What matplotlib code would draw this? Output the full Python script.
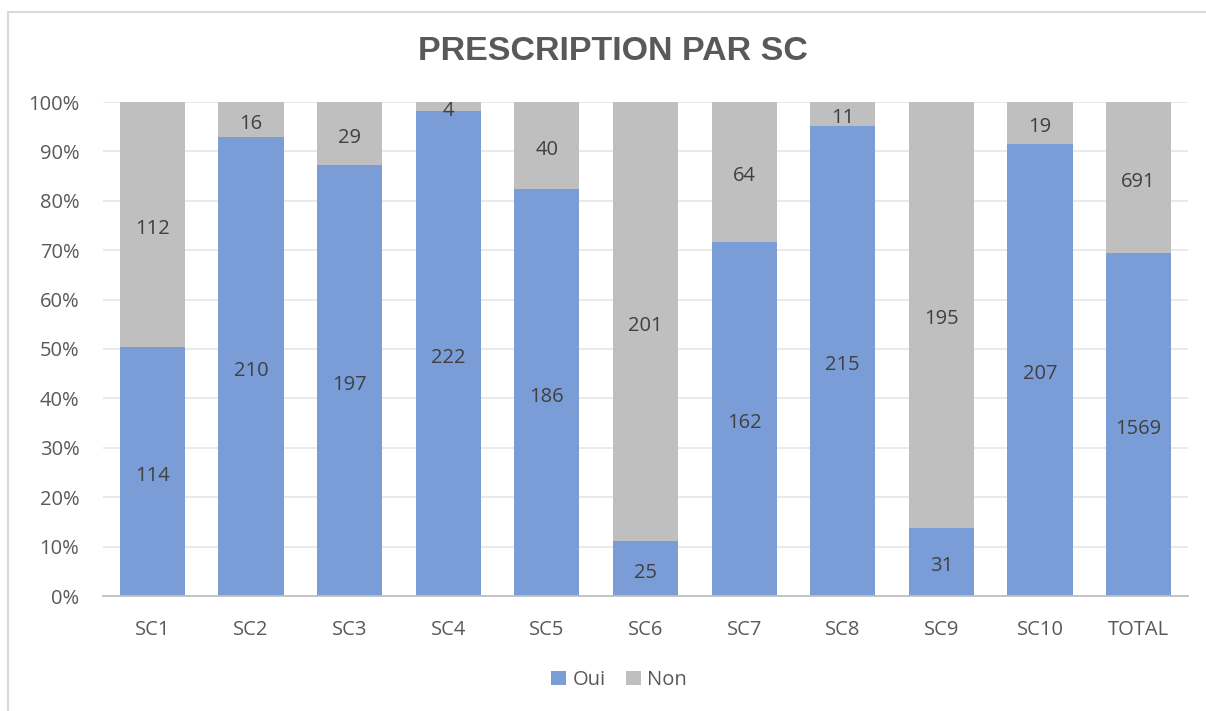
import matplotlib
matplotlib.use("Agg")
import matplotlib.pyplot as plt
from matplotlib.patches import Rectangle
import numpy as np

categories = ["SC1", "SC2", "SC3", "SC4", "SC5", "SC6", "SC7", "SC8", "SC9", "SC10", "TOTAL"]
oui = [114, 210, 197, 222, 186, 25, 162, 215, 31, 207, 1569]
non = [112, 16, 29, 4, 40, 201, 64, 11, 195, 19, 691]

oui_a = np.array(oui, dtype=float)
non_a = np.array(non, dtype=float)
tot = oui_a + non_a
oui_p = oui_a / tot * 100
non_p = non_a / tot * 100

FONT = "Open Sans"
TXT = "#595959"
BLUE = "#7A9DD7"
GREY = "#BFBFBF"
FS = 14.5

fig = plt.figure(figsize=(12.06, 7.11), dpi=100)
fig.patches.append(Rectangle((8/1206, -0.1), 1.2, (711-12)/711 + 0.1, transform=fig.transFigure,
                             fill=False, edgecolor="#D9D9D9", linewidth=1.5))
ax = fig.add_axes([103/1206, 1-596/711, (1188-103)/1206, (596-102)/711])

x = np.arange(len(categories))
w = 0.66
ax.bar(x, oui_p, width=w, color=BLUE, label="Oui", zorder=3)
ax.bar(x, non_p, width=w, bottom=oui_p, color=GREY, label="Non", zorder=3)

for i in range(len(categories)):
    ax.annotate(str(oui[i]), (x[i], oui_p[i] / 2), xytext=(0, -3), textcoords="offset points",
                ha="center", va="center", fontsize=FS, color="#404040", family=FONT, zorder=4)
    ax.annotate(str(non[i]), (x[i], oui_p[i] + non_p[i] / 2), xytext=(0, -3),
                textcoords="offset points", ha="center", va="center",
                fontsize=FS, color="#404040", family=FONT, zorder=4)

ax.set_xlim(-0.5, len(categories) - 0.5)
ax.set_ylim(0, 100)
ax.set_yticks(np.arange(0, 101, 10))
ax.set_yticklabels([f"{v}%" for v in range(0, 101, 10)])
ax.set_xticks(x)
ax.set_xticklabels(categories)
for lab in ax.get_xticklabels() + ax.get_yticklabels():
    lab.set_family(FONT)
    lab.set_fontsize(FS)
    lab.set_color(TXT)
ax.tick_params(axis="both", length=0)
ax.tick_params(axis="x", pad=17)
ax.tick_params(axis="y", pad=17)
ax.grid(axis="y", color="#E6E6E6", linewidth=1.2, zorder=0)
for s in ["top", "right", "left"]:
    ax.spines[s].set_visible(False)
ax.spines["bottom"].set_color("#BFBFBF")
ax.spines["bottom"].set_linewidth(1.3)
ax.spines["bottom"].set_zorder(5)

fig.text(613/1206, 1 - 52/711, "PRESCRIPTION PAR SC", ha="center", va="center",
         fontsize=24.5, fontweight="bold", color=TXT, family="Liberation Sans")

leg = fig.legend(loc="center", bbox_to_anchor=(619/1206, 1 - 680/711), ncol=2, frameon=False,
                 prop={"family": FONT, "size": FS}, handlelength=0.75, handleheight=0.75,
                 handletextpad=0.3, columnspacing=1.0)
for t in leg.get_texts():
    t.set_color(TXT)

fig.savefig("out.png", dpi=100)
